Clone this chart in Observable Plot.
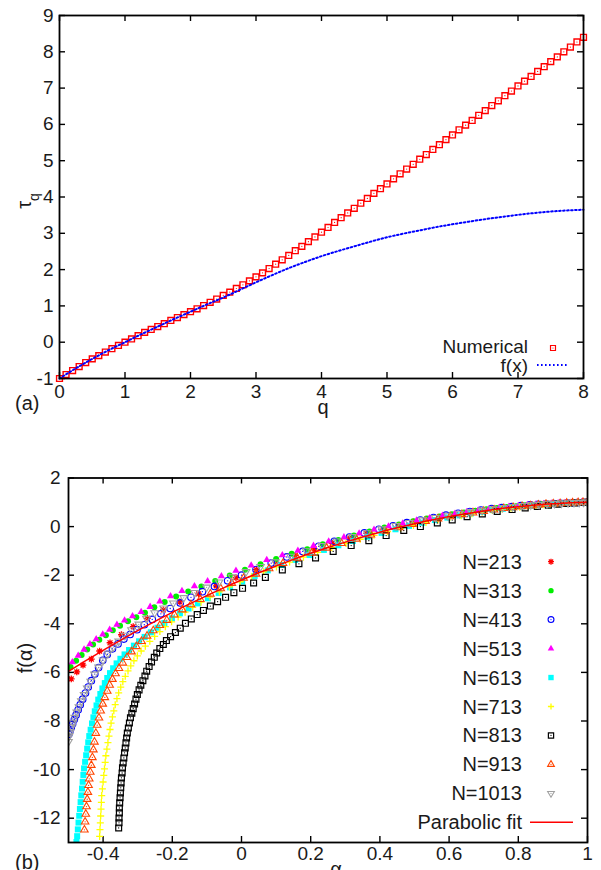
<!DOCTYPE html>
<html><head><meta charset="utf-8">
<script src="https://cdn.jsdelivr.net/npm/d3@7"></script>
<script src="https://cdn.jsdelivr.net/npm/@observablehq/plot@0.6"></script>
<style>
html,body{margin:0;padding:0;background:#fff;}
#wrap{position:relative;width:601px;height:870px;overflow:hidden;background:#fff;}
#top,#bot{position:absolute;left:0;}
#top{top:0px;}
#bot{top:450px;}
</style></head>
<body><div id="wrap"><div id="top"></div><div id="bot"></div></div>
<script>
// ---------- Panel (a) data ----------
const qValues = [0,0.1,0.2,0.3,0.4,0.5,0.6,0.7,0.8,0.9,1,1.1,1.2,1.3,1.4,1.5,1.6,1.7,1.8,1.9,2,2.1,2.2,2.3,2.4,2.5,2.6,2.7,2.8,2.9,3,3.1,3.2,3.3,3.4,3.5,3.6,3.7,3.8,3.9,4,4.1,4.2,4.3,4.4,4.5,4.6,4.7,4.8,4.9,5,5.1,5.2,5.3,5.4,5.5,5.6,5.7,5.8,5.9,6,6.1,6.2,6.3,6.4,6.5,6.6,6.7,6.8,6.9,7,7.1,7.2,7.3,7.4,7.5,7.6,7.7,7.8,7.9,8];
const tauNumerical = [-1.00,-0.89,-0.78,-0.67,-0.56,-0.46,-0.37,-0.27,-0.18,-0.09,0.00,0.09,0.18,0.27,0.35,0.43,0.51,0.60,0.68,0.76,0.84,0.92,1.01,1.10,1.19,1.29,1.38,1.48,1.58,1.69,1.80,1.91,2.03,2.15,2.27,2.39,2.52,2.64,2.77,2.90,3.03,3.16,3.30,3.43,3.56,3.69,3.83,3.96,4.10,4.23,4.36,4.50,4.64,4.77,4.90,5.04,5.17,5.31,5.44,5.58,5.71,5.85,5.98,6.11,6.25,6.38,6.52,6.65,6.79,6.92,7.06,7.19,7.32,7.46,7.59,7.73,7.86,8.00,8.13,8.27,8.40];
const qFx = [0,0.25,0.5,0.75,1,1.25,1.5,1.75,2,2.25,2.5,2.75,3,3.25,3.5,3.75,4,4.25,4.5,4.75,5,5.25,5.5,5.75,6,6.25,6.5,6.75,7,7.25,7.5,7.75,8];
const tauFx = [-1.00,-0.72,-0.46,-0.22,0.00,0.22,0.43,0.64,0.84,1.04,1.23,1.44,1.65,1.85,2.04,2.21,2.37,2.51,2.64,2.77,2.89,2.99,3.08,3.17,3.25,3.32,3.39,3.45,3.51,3.56,3.60,3.63,3.65];
const qTicks = [0,1,2,3,4,5,6,7,8];
const tauTicks = [-1,0,1,2,3,4,5,6,7,8,9];
const topLegend = ["Numerical","f(x)"];

// ---------- Panel (b) data ----------
const alpha213 = [-0.492,-0.476,-0.458,-0.434,-0.410,-0.380,-0.347,-0.313,-0.272,-0.226,-0.178,-0.124,-0.073,-0.016,0.043,0.100,0.155,0.210,0.262,0.313,0.362,0.410,0.455,0.498,0.540,0.580,0.618,0.655,0.690,0.723,0.755,0.785,0.813,0.840,0.865,0.888,0.910,0.930,0.948,0.964,0.978,0.990,1.000];
const f213 = [-6.27,-5.98,-5.70,-5.45,-5.12,-4.78,-4.45,-4.12,-3.78,-3.43,-3.10,-2.77,-2.44,-2.10,-1.77,-1.47,-1.19,-0.92,-0.69,-0.47,-0.28,-0.10,0.05,0.19,0.31,0.42,0.50,0.59,0.66,0.73,0.78,0.83,0.86,0.90,0.93,0.94,0.96,0.97,0.98,0.99,0.995,1.0,1.0];

const alpha313 = [-0.494,-0.478,-0.462,-0.446,-0.429,-0.411,-0.392,-0.372,-0.351,-0.328,-0.304,-0.279,-0.252,-0.222,-0.189,-0.154,-0.116,-0.076,-0.034,0.010,0.055,0.100,0.145,0.190,0.235,0.280,0.325,0.370,0.413,0.455,0.496,0.535,0.572,0.608,0.643,0.676,0.708,0.738,0.767,0.794,0.820,0.845,0.868,0.890,0.911,0.930,0.948,0.964,0.978,0.990,1.000];
const f313 = [-5.78,-5.52,-5.28,-5.06,-4.85,-4.66,-4.47,-4.27,-4.08,-3.90,-3.73,-3.55,-3.32,-3.10,-2.88,-2.67,-2.46,-2.24,-2.01,-1.78,-1.55,-1.33,-1.12,-0.93,-0.73,-0.55,-0.37,-0.20,-0.04,0.09,0.22,0.33,0.42,0.51,0.58,0.65,0.71,0.77,0.81,0.84,0.88,0.90,0.93,0.94,0.96,0.97,0.98,0.99,0.995,1.0,1.0];

const alpha413 = [-0.499,-0.496,-0.492,-0.488,-0.483,-0.478,-0.472,-0.466,-0.459,-0.451,-0.443,-0.434,-0.424,-0.413,-0.401,-0.388,-0.373,-0.357,-0.340,-0.322,-0.302,-0.281,-0.258,-0.233,-0.206,-0.177,-0.146,-0.113,-0.078,-0.040,0.000,0.042,0.086,0.131,0.177,0.223,0.268,0.312,0.355,0.397,0.438,0.478,0.517,0.555,0.591,0.626,0.660,0.692,0.723,0.752,0.780,0.807,0.833,0.857,0.880,0.902,0.922,0.941,0.958,0.973,0.987,1.000];
const f413 = [-8.55,-8.42,-8.27,-8.11,-7.93,-7.75,-7.54,-7.33,-7.10,-6.85,-6.60,-6.34,-6.07,-5.80,-5.50,-5.26,-5.03,-4.83,-4.63,-4.44,-4.24,-4.04,-3.82,-3.59,-3.37,-3.14,-2.91,-2.68,-2.46,-2.23,-2.00,-1.77,-1.50,-1.25,-1.02,-0.81,-0.61,-0.43,-0.26,-0.11,0.03,0.16,0.27,0.37,0.47,0.55,0.62,0.68,0.74,0.78,0.82,0.86,0.89,0.92,0.93,0.95,0.96,0.97,0.98,0.99,1.0,1.0];

const alpha513 = [-0.489,-0.472,-0.455,-0.438,-0.420,-0.401,-0.381,-0.360,-0.338,-0.315,-0.290,-0.264,-0.236,-0.205,-0.172,-0.136,-0.098,-0.058,-0.016,0.028,0.073,0.118,0.163,0.208,0.252,0.296,0.340,0.383,0.425,0.466,0.506,0.544,0.581,0.617,0.651,0.684,0.715,0.745,0.773,0.800,0.826,0.850,0.873,0.895,0.915,0.934,0.952,0.968,0.983,0.995];
const f513 = [-5.58,-5.31,-5.06,-4.84,-4.63,-4.44,-4.24,-4.04,-3.86,-3.69,-3.51,-3.30,-3.08,-2.86,-2.65,-2.45,-2.25,-2.04,-1.81,-1.60,-1.37,-1.18,-0.99,-0.79,-0.61,-0.44,-0.28,-0.13,0.01,0.13,0.25,0.35,0.45,0.53,0.60,0.66,0.72,0.78,0.82,0.85,0.89,0.91,0.93,0.95,0.96,0.97,0.98,0.99,1.0,1.0];

const alpha613 = [-0.477,-0.475,-0.473,-0.471,-0.469,-0.467,-0.465,-0.463,-0.461,-0.459,-0.457,-0.455,-0.452,-0.449,-0.446,-0.443,-0.440,-0.436,-0.432,-0.428,-0.424,-0.419,-0.414,-0.408,-0.402,-0.395,-0.388,-0.380,-0.371,-0.361,-0.350,-0.338,-0.325,-0.311,-0.296,-0.280,-0.262,-0.243,-0.223,-0.201,-0.178,-0.153,-0.126,-0.097,-0.066,-0.033,0.002,0.038,0.076,0.115,0.155,0.196,0.238,0.280,0.322,0.364,0.405,0.445,0.484,0.522,0.559,0.595,0.630,0.663,0.695,0.726,0.755,0.783,0.810,0.836,0.860,0.883,0.905,0.925,0.944,0.961,0.977,0.990,1.000];
const f613 = [-12.98,-12.74,-12.46,-12.18,-11.90,-11.62,-11.34,-11.06,-10.78,-10.50,-10.22,-9.95,-9.68,-9.41,-9.14,-8.88,-8.62,-8.36,-8.10,-7.85,-7.60,-7.36,-7.12,-6.89,-6.66,-6.44,-6.23,-6.03,-5.83,-5.63,-5.44,-5.26,-5.08,-4.90,-4.72,-4.54,-4.35,-4.16,-3.97,-3.77,-3.57,-3.37,-3.16,-2.95,-2.73,-2.50,-2.26,-2.03,-1.80,-1.58,-1.37,-1.17,-0.96,-0.77,-0.59,-0.42,-0.26,-0.11,0.03,0.16,0.27,0.37,0.46,0.54,0.61,0.68,0.73,0.78,0.82,0.86,0.89,0.91,0.93,0.95,0.97,0.98,0.99,1.0,1.0];

const alpha713 = [-0.410,-0.409,-0.408,-0.407,-0.406,-0.405,-0.404,-0.402,-0.400,-0.398,-0.396,-0.394,-0.392,-0.389,-0.386,-0.383,-0.380,-0.377,-0.373,-0.369,-0.365,-0.360,-0.355,-0.349,-0.343,-0.336,-0.328,-0.320,-0.311,-0.301,-0.290,-0.278,-0.265,-0.251,-0.236,-0.220,-0.202,-0.183,-0.163,-0.141,-0.117,-0.091,-0.064,-0.035,-0.004,0.029,0.064,0.101,0.139,0.179,0.220,0.261,0.302,0.343,0.383,0.422,0.460,0.497,0.533,0.568,0.602,0.635,0.666,0.696,0.725,0.753,0.779,0.804,0.828,0.851,0.873,0.894,0.914,0.933,0.951,0.967,0.982,0.995];
const f713 = [-12.75,-12.47,-12.19,-11.91,-11.63,-11.35,-11.07,-10.79,-10.51,-10.24,-9.97,-9.70,-9.43,-9.16,-8.89,-8.62,-8.35,-8.09,-7.83,-7.58,-7.33,-7.08,-6.84,-6.61,-6.38,-6.16,-5.94,-5.73,-5.52,-5.32,-5.12,-4.92,-4.72,-4.52,-4.32,-4.12,-3.92,-3.72,-3.52,-3.32,-3.11,-2.90,-2.69,-2.48,-2.27,-2.06,-1.86,-1.66,-1.46,-1.26,-1.06,-0.87,-0.69,-0.52,-0.36,-0.21,-0.08,0.05,0.17,0.27,0.37,0.45,0.53,0.60,0.66,0.72,0.76,0.80,0.84,0.87,0.90,0.92,0.94,0.96,0.97,0.98,0.99,1.0];

const alpha813 = [-0.355,-0.354,-0.354,-0.353,-0.353,-0.352,-0.351,-0.350,-0.349,-0.348,-0.347,-0.345,-0.344,-0.342,-0.340,-0.338,-0.336,-0.334,-0.332,-0.330,-0.327,-0.324,-0.321,-0.317,-0.313,-0.309,-0.305,-0.301,-0.296,-0.291,-0.285,-0.279,-0.274,-0.267,-0.260,-0.252,-0.245,-0.236,-0.226,-0.217,-0.205,-0.191,-0.177,-0.162,-0.145,-0.128,-0.110,-0.090,-0.069,-0.046,-0.022,0.003,0.035,0.069,0.118,0.166,0.214,0.265,0.317,0.368,0.418,0.469,0.517,0.566,0.609,0.652,0.696,0.739,0.782,0.820,0.855,0.887,0.915,0.940,0.962,0.981,0.996];
const f813 = [-12.40,-12.19,-11.99,-11.78,-11.58,-11.37,-11.16,-10.96,-10.75,-10.55,-10.34,-10.14,-9.93,-9.73,-9.52,-9.31,-9.11,-8.90,-8.70,-8.49,-8.29,-8.08,-7.87,-7.68,-7.49,-7.30,-7.10,-6.91,-6.72,-6.53,-6.34,-6.15,-5.95,-5.76,-5.57,-5.38,-5.20,-5.02,-4.85,-4.69,-4.53,-4.36,-4.18,-3.98,-3.80,-3.62,-3.45,-3.27,-3.09,-2.91,-2.72,-2.54,-2.32,-2.09,-1.78,-1.53,-1.29,-1.02,-0.78,-0.58,-0.37,-0.16,0.00,0.15,0.27,0.41,0.52,0.62,0.70,0.77,0.83,0.88,0.92,0.95,0.97,0.99,1.0];

const alpha913 = [-0.454,-0.452,-0.450,-0.448,-0.446,-0.444,-0.442,-0.440,-0.437,-0.434,-0.431,-0.428,-0.425,-0.421,-0.417,-0.412,-0.407,-0.401,-0.395,-0.388,-0.381,-0.373,-0.364,-0.354,-0.343,-0.331,-0.318,-0.304,-0.289,-0.273,-0.255,-0.236,-0.216,-0.194,-0.171,-0.146,-0.119,-0.090,-0.060,-0.028,0.006,0.042,0.080,0.120,0.161,0.203,0.246,0.289,0.332,0.374,0.415,0.455,0.494,0.532,0.568,0.603,0.637,0.669,0.700,0.730,0.758,0.785,0.811,0.835,0.858,0.880,0.901,0.921,0.940,0.957,0.973,0.987,1.000];
const f913 = [-12.48,-12.15,-11.83,-11.52,-11.22,-10.93,-10.65,-10.38,-10.10,-9.82,-9.50,-9.18,-8.86,-8.50,-8.17,-7.87,-7.58,-7.30,-7.03,-6.77,-6.52,-6.28,-6.05,-5.83,-5.61,-5.38,-5.15,-4.93,-4.72,-4.50,-4.28,-4.06,-3.85,-3.63,-3.42,-3.21,-2.99,-2.77,-2.55,-2.33,-2.12,-1.95,-1.73,-1.51,-1.29,-1.09,-0.88,-0.69,-0.51,-0.34,-0.18,-0.04,0.10,0.22,0.32,0.41,0.50,0.57,0.63,0.69,0.75,0.79,0.83,0.86,0.89,0.92,0.94,0.95,0.97,0.98,0.99,1.0,1.0];

const alpha1013 = [-0.500,-0.498,-0.495,-0.491,-0.487,-0.482,-0.476,-0.470,-0.463,-0.455,-0.446,-0.436,-0.425,-0.413,-0.400,-0.386,-0.371,-0.355,-0.337,-0.318,-0.297,-0.275,-0.251,-0.225,-0.197,-0.167,-0.135,-0.101,-0.065,-0.027,0.013,0.055,0.098,0.142,0.187,0.232,0.276,0.320,0.363,0.405,0.446,0.485,0.523,0.560,0.596,0.630,0.663,0.695,0.726,0.755,0.783,0.810,0.836,0.860,0.883,0.905,0.925,0.944,0.961,0.976,0.989,1.000];
const f1013 = [-8.85,-8.62,-8.45,-8.25,-8.06,-7.86,-7.64,-7.42,-7.18,-6.92,-6.65,-6.37,-6.08,-5.79,-5.50,-5.22,-4.96,-4.72,-4.48,-4.25,-4.02,-3.78,-3.55,-3.36,-3.15,-2.93,-2.72,-2.50,-2.29,-2.07,-1.86,-1.65,-1.46,-1.23,-1.00,-0.79,-0.60,-0.42,-0.26,-0.10,0.04,0.16,0.27,0.37,0.46,0.54,0.61,0.67,0.73,0.78,0.82,0.86,0.89,0.91,0.935,0.95,0.96,0.975,0.985,0.99,1.0,1.0];

const alphaFit = [-0.5,-0.45,-0.4,-0.35,-0.3,-0.25,-0.2,-0.15,-0.1,-0.05,0,0.05,0.1,0.15,0.2,0.25,0.3,0.35,0.4,0.45,0.5,0.55,0.6,0.65,0.7,0.75,0.8,0.85,0.9,0.95,1.0];
const fFit = [-5.96,-5.52,-5.09,-4.68,-4.28,-3.90,-3.53,-3.18,-2.84,-2.51,-2.20,-1.90,-1.62,-1.35,-1.10,-0.86,-0.64,-0.43,-0.23,-0.05,0.12,0.27,0.41,0.53,0.64,0.74,0.82,0.89,0.94,0.98,1.00];

const alphaTicks = [-0.4,-0.2,0,0.2,0.4,0.6,0.8,1];
const fTicks = [-12,-10,-8,-6,-4,-2,0,2];
const seriesLabels = ["N=213","N=313","N=413","N=513","N=613","N=713","N=813","N=913","N=1013"];
const fitLabel = "Parabolic fit";

// ---------- helpers ----------
const FONT = '"Liberation Sans", Arial, Helvetica, sans-serif';
const TXT = "#1a1a1a";
const asterisk8 = {draw(ctx, size){ const r = Math.sqrt(size/Math.PI)*1.05; const d = r*0.72;
  ctx.moveTo(-r,0); ctx.lineTo(r,0); ctx.moveTo(0,-r); ctx.lineTo(0,r);
  ctx.moveTo(-d,-d); ctx.lineTo(d,d); ctx.moveTo(-d,d); ctx.lineTo(d,-d); }};
const triDown = {draw(ctx, size){ const s3 = Math.sqrt(3); const y = Math.sqrt(size/(s3*3));
  ctx.moveTo(0, y*2); ctx.lineTo(-s3*y, -y); ctx.lineTo(s3*y, -y); ctx.closePath(); }};

const rows = (xs, ys, kx, ky) => xs.map((v,i)=>({[kx]: v, [ky]: ys[i]}));

const seriesDefs = [
  {alpha: alpha213, f: f213, color: "#ff0000", symbol: asterisk8, r: 3.2, filled: false, center: false, sw: 1.3},
  {alpha: alpha313, f: f313, color: "#00ee00", symbol: d3.symbolCircle, r: 3.0, filled: true, center: false},
  {alpha: alpha413, f: f413, color: "#0000ff", symbol: d3.symbolCircle, r: 3.3, filled: false, center: true, sw: 1.1},
  {alpha: alpha513, f: f513, color: "#ff00ff", symbol: d3.symbolTriangle, r: 2.7, filled: true, center: false},
  {alpha: alpha613, f: f613, color: "#00ffff", symbol: d3.symbolSquare, r: 3.4, filled: true, center: false},
  {alpha: alpha713, f: f713, color: "#ffff00", symbol: d3.symbolPlus, r: 2.4, filled: false, center: false, sw: 1.3},
  {alpha: alpha813, f: f813, color: "#000000", symbol: d3.symbolSquare, r: 3.3, filled: false, center: true, sw: 1.2},
  {alpha: alpha913, f: f913, color: "#ff4500", symbol: d3.symbolTriangle, r: 2.8, filled: false, center: true, sw: 1.1},
  {alpha: alpha1013, f: f1013, color: "#a0a0a0", symbol: triDown, r: 2.8, filled: false, center: true, sw: 1.1}
];

// ---------- Panel (a) ----------
const TICK = 6;
const aM = {top: 15, right: 18, bottom: 42, left: 59}, aW = 601, aH = 420;
const aIW = aW - aM.left - aM.right, aIH = aH - aM.top - aM.bottom;
const numRows = rows(qValues, tauNumerical, "q", "tau");
const fxRows = rows(qFx, tauFx, "q", "tau");

const plotA = Plot.plot({
  width: aW, height: aH,
  marginTop: aM.top, marginRight: aM.right, marginBottom: aM.bottom, marginLeft: aM.left,
  x: {domain: [0, 8]}, y: {domain: [-1, 9]},
  style: {fontFamily: FONT, fontSize: "19px", color: TXT, background: "white"},
  marks: [
    Plot.tickX(qTicks, {x: d => d, stroke: "#000", strokeWidth: 1.4, insetTop: aIH - TICK}),
    Plot.tickX(qTicks, {x: d => d, stroke: "#000", strokeWidth: 1.4, insetBottom: aIH - TICK}),
    Plot.tickY(tauTicks, {y: d => d, stroke: "#000", strokeWidth: 1.4, insetRight: aIW - TICK}),
    Plot.tickY(tauTicks, {y: d => d, stroke: "#000", strokeWidth: 1.4, insetLeft: aIW - TICK}),
    Plot.axisX({ticks: qTicks, tickSize: 0, tickPadding: 6, tickFormat: d => String(d), label: null}),
    Plot.axisY({ticks: tauTicks, tickSize: 0, tickPadding: 6, tickFormat: d => String(d), label: null}),
    Plot.dot(numRows, {x: "q", y: "tau", symbol: "square", r: 3.3, stroke: "#ff0000", strokeWidth: 1.4, fill: "none"}),
    Plot.dot(numRows, {x: "q", y: "tau", r: 0.6, fill: "#ff0000"}),
    Plot.line(fxRows, {x: "q", y: "tau", stroke: "#0000ff", strokeWidth: 2, strokeDasharray: "1.6,2.4", curve: "monotone-x"}),
    Plot.frame({stroke: "#000", strokeWidth: 1.8})
  ]
});
document.getElementById("top").appendChild(plotA);

// ---------- Panel (b) ----------
const bM = {top: 27.5, right: 14, bottom: 28, left: 68}, bW = 601, bH = 420;
const bIW = bW - bM.left - bM.right, bIH = bH - bM.top - bM.bottom;
const seriesMarks = [];
for (const s of seriesDefs) {
  const data = rows(s.alpha, s.f, "alpha", "f");
  seriesMarks.push(Plot.dot(data, {x: "alpha", y: "f", symbol: s.symbol, r: s.r,
    fill: s.filled ? s.color : "none", stroke: s.filled ? "none" : s.color,
    strokeWidth: s.sw || 1, clip: true}));
  if (s.center) seriesMarks.push(Plot.dot(data, {x: "alpha", y: "f", r: 0.65, fill: s.color, clip: true}));
}
const fitRows = rows(alphaFit, fFit, "alpha", "f");

const plotB = Plot.plot({
  width: bW, height: bH,
  marginTop: bM.top, marginRight: bM.right, marginBottom: bM.bottom, marginLeft: bM.left,
  x: {domain: [-0.5, 1]}, y: {domain: [-13, 2]},
  style: {fontFamily: FONT, fontSize: "19px", color: TXT, background: "white"},
  marks: [
    Plot.tickX(alphaTicks, {x: d => d, stroke: "#000", strokeWidth: 1.4, insetTop: bIH - TICK}),
    Plot.tickX(alphaTicks, {x: d => d, stroke: "#000", strokeWidth: 1.4, insetBottom: bIH - TICK}),
    Plot.tickY(fTicks, {y: d => d, stroke: "#000", strokeWidth: 1.4, insetRight: bIW - TICK}),
    Plot.tickY(fTicks, {y: d => d, stroke: "#000", strokeWidth: 1.4, insetLeft: bIW - TICK}),
    Plot.axisX({ticks: alphaTicks, tickSize: 0, tickPadding: 4, tickFormat: d => String(d), label: null}),
    Plot.axisY({ticks: fTicks, tickSize: 0, tickPadding: 8, tickFormat: d => String(d), label: null}),
    ...seriesMarks,
    Plot.line(fitRows, {x: "alpha", y: "f", stroke: "#ff0000", strokeWidth: 1.5, curve: "natural", clip: true}),
    Plot.frame({stroke: "#000", strokeWidth: 1.8})
  ]
});
document.getElementById("bot").appendChild(plotB);

// ---------- overlay: labels and legends ----------
const ov = d3.select("#wrap").append("svg")
  .attr("width", 601).attr("height", 870)
  .style("position", "absolute").style("left", "0px").style("top", "0px")
  .style("font-family", FONT).style("pointer-events", "none");

function txt(x, y, s, opts = {}) {
  return ov.append("text").attr("x", x).attr("y", y).attr("fill", TXT)
    .attr("font-size", opts.size || 20).attr("text-anchor", opts.anchor || "start")
    .attr("dy", opts.dy || null).text(s);
}
// Panel (a) labels
txt(323, 414, "q", {anchor: "middle"});
txt(15, 410, "(a)");
const tl = ov.append("text").attr("transform", "translate(31,201) rotate(-90)")
  .attr("text-anchor", "middle").attr("font-size", 20).attr("fill", TXT);
tl.append("tspan").text("τ");
tl.append("tspan").attr("baseline-shift", "sub").attr("font-size", 14).text("q");

// Panel (a) legend
txt(528, 346, topLegend[0], {anchor: "end", dy: "0.35em", size: 19});
txt(528, 365, topLegend[1], {anchor: "end", dy: "0.35em", size: 19});
ov.append("path").attr("transform", "translate(553,348)")
  .attr("d", d3.symbol(d3.symbolSquare, Math.PI * 2.8 * 2.8)())
  .attr("fill", "none").attr("stroke", "#ff0000").attr("stroke-width", 1.2);
ov.append("circle").attr("cx", 553).attr("cy", 348).attr("r", 0.6).attr("fill", "#ff0000");
ov.append("line").attr("x1", 537).attr("x2", 568).attr("y1", 365).attr("y2", 365)
  .attr("stroke", "#0000ff").attr("stroke-width", 2).attr("stroke-dasharray", "1.6,2.4");

// Panel (b) labels
txt(15, 869, "(b)");
txt(336, 876, "α", {anchor: "middle"});
ov.append("text").attr("transform", "translate(32,658) rotate(-90)")
  .attr("text-anchor", "middle").attr("font-size", 20).attr("fill", TXT).text("f(α)");

// Panel (b) legend
const legY0 = 561.7, legStep = 28.96;
seriesDefs.forEach((s, i) => {
  const y = legY0 + i * legStep;
  txt(522, y, seriesLabels[i], {anchor: "end", dy: "0.35em"});
  ov.append("path").attr("transform", `translate(551,${y})`)
    .attr("d", d3.symbol(s.symbol, Math.PI * s.r * s.r * 0.8)())
    .attr("fill", s.filled ? s.color : "none").attr("stroke", s.filled ? "none" : s.color)
    .attr("stroke-width", s.sw || 1);
  if (s.center) ov.append("circle").attr("cx", 551).attr("cy", y).attr("r", 0.6).attr("fill", s.color);
});
const yFit = legY0 + 9 * legStep;
txt(522, yFit, fitLabel, {anchor: "end", dy: "0.35em"});
ov.append("line").attr("x1", 530).attr("x2", 573).attr("y1", yFit).attr("y2", yFit)
  .attr("stroke", "#ff0000").attr("stroke-width", 1.5);
</script>
</body></html>
